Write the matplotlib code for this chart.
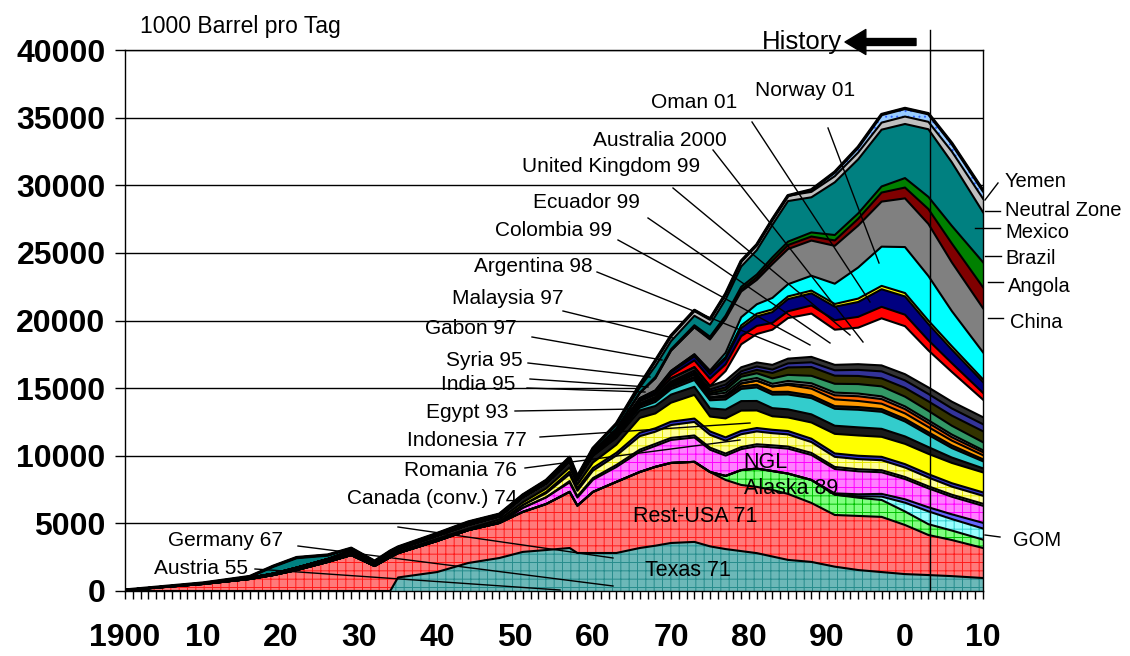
import matplotlib
matplotlib.use("Agg")
import matplotlib.pyplot as plt

# Non-OPEC oil production, 1000 barrel per day (stacked by country / region)
years = [1900, 1910, 1916, 1919, 1922, 1926, 1929, 1932, 1934, 1935, 1940, 1944, 1948, 1951, 1954, 1957, 1958,
         1960, 1963, 1966, 1968, 1970, 1973, 1975, 1977, 1979, 1981, 1983, 1985, 1988, 1991, 1994, 1997, 2000,
         2003, 2006, 2010]

texas = [0, 0, 0, 0, 0, 0, 0, 0, 0, 1000, 1400, 2070, 2440, 2890, 3030, 3180, 2810, 2810, 2810, 3180, 3350,
         3550, 3630, 3300, 3100, 2950, 2800, 2550, 2300, 2150, 1800, 1550, 1400, 1250, 1180, 1100, 960]
rest_usa = [70, 520, 890, 1180, 1550, 2150, 2660, 1850, 2500, 1800, 2300, 2430, 2590, 2960, 3400, 4150, 3500,
            4520, 5260, 5620, 5830, 5920, 5920, 5500, 5110, 4890, 4900, 4920, 4880, 4360, 3820, 4000, 4080, 3630,
            2960, 2670, 2220]
alaska = [0, 0, 0, 0, 0, 0, 0, 0, 0, 0, 0, 0, 0, 0, 0, 0, 0, 0, 0, 0, 0, 0, 0, 0, 300, 1100, 1350, 1400, 1500,
          1700, 1500, 1350, 1250, 1000, 800, 700, 620]
gom = [0, 0, 0, 0, 0, 0, 0, 0, 0, 0, 0, 0, 0, 0, 0, 0, 0, 0, 0, 0, 0, 0, 0, 0, 0, 0, 0, 0, 0, 0, 0, 100, 250,
       650, 950, 850, 820]
blue1 = [0, 0, 0, 0, 0, 0, 0, 0, 0, 0, 0, 0, 0, 0, 0, 0, 0, 0, 0, 0, 0, 0, 0, 0, 0, 0, 0, 0, 0, 0, 100, 150,
         200, 250, 300, 350, 420]
ngl = [0, 0, 0, 0, 0, 0, 0, 0, 0, 0, 0, 0, 0, 300, 500, 700, 600, 900, 1100, 1500, 1550, 1700, 1800, 1650, 1500,
       1550, 1650, 1750, 1850, 1850, 1800, 1700, 1600, 1500, 1400, 1300, 1260]
lav = [0, 0, 0, 0, 0, 0, 0, 0, 0, 0, 0, 0, 0, 0, 0, 100, 100, 120, 150, 150, 150, 150, 150, 150, 150, 150, 150,
       150, 150, 150, 150, 150, 150, 150, 150, 150, 150]
light_yellow = [0, 0, 0, 0, 0, 0, 0, 0, 0, 0, 0, 0, 100, 200, 300, 500, 400, 550, 700, 1000, 900, 950, 1000,
                950, 950, 950, 950, 900, 900, 800, 750, 750, 740, 700, 650, 600, 590]
dark1 = [0, 0, 0, 0, 0, 0, 0, 0, 0, 0, 0, 0, 0, 0, 100, 200, 200, 200, 200, 250, 250, 250, 250, 250, 250, 250,
         250, 250, 250, 250, 250, 250, 250, 250, 250, 250, 250]
yellow = [0, 0, 0, 0, 50, 60, 100, 100, 100, 100, 150, 100, 150, 200, 250, 300, 250, 400, 600, 1100, 1100, 1400,
          1750, 1100, 1400, 1500, 1300, 1000, 1000, 1200, 1450, 1500, 1480, 1500, 1500, 1500, 1480]
dark2 = [0, 50, 80, 100, 120, 150, 200, 150, 200, 200, 250, 300, 250, 400, 400, 500, 400, 500, 500, 550, 550,
         600, 600, 600, 650, 700, 700, 600, 600, 600, 600, 600, 590, 550, 500, 400, 300]
turq = [0, 0, 0, 0, 0, 0, 0, 0, 0, 0, 0, 0, 0, 0, 0, 0, 0, 0, 100, 200, 300, 400, 500, 600, 750, 900, 1000, 1000,
        1100, 1200, 1250, 1300, 1260, 1100, 900, 700, 520]
dark3 = [0, 0, 0, 0, 0, 0, 0, 0, 0, 0, 0, 0, 0, 0, 0, 0, 0, 100, 200, 200, 200, 200, 200, 200, 200, 200, 200,
         200, 200, 200, 200, 200, 200, 200, 200, 200, 150]
orange = [0, 0, 0, 0, 0, 0, 0, 0, 0, 0, 0, 0, 0, 0, 0, 0, 0, 0, 0, 0, 0, 0, 0, 0, 100, 200, 300, 400, 500, 500,
          500, 450, 400, 400, 380, 350, 300]
dorange = [0, 0, 0, 0, 0, 0, 0, 0, 0, 0, 0, 0, 0, 0, 0, 0, 0, 0, 0, 0, 0, 0, 0, 0, 0, 0, 0, 0, 100, 200, 300,
           350, 340, 320, 300, 250, 220]
grey2 = [0, 0, 0, 0, 0, 0, 0, 0, 0, 0, 0, 0, 0, 0, 0, 0, 0, 0, 0, 0, 0, 100, 200, 200, 200, 200, 200, 200, 200,
         200, 200, 200, 200, 200, 200, 200, 150]
seagreen = [0, 0, 0, 0, 0, 0, 0, 0, 0, 0, 0, 0, 0, 0, 0, 0, 0, 0, 0, 0, 0, 0, 0, 100, 200, 300, 350, 400, 450,
            550, 650, 700, 740, 720, 700, 650, 590]
olive = [0, 0, 0, 0, 0, 0, 0, 0, 0, 0, 0, 0, 0, 0, 0, 0, 0, 0, 0, 100, 150, 150, 150, 150, 200, 200, 250, 400,
         550, 650, 600, 600, 590, 650, 700, 750, 810]
slate = [0, 0, 0, 0, 0, 0, 0, 0, 0, 0, 0, 0, 0, 0, 0, 0, 0, 0, 0, 0, 0, 100, 150, 150, 200, 200, 250, 250, 300,
         350, 400, 450, 520, 550, 550, 530, 520]
dgrey = [0, 0, 0, 0, 0, 0, 0, 0, 0, 0, 0, 0, 0, 0, 0, 0, 0, 100, 150, 200, 200, 250, 250, 250, 300, 300, 300,
         350, 350, 400, 400, 420, 440, 460, 480, 500, 520]
white = [0, 0, 0, 0, 0, 0, 0, 0, 0, 0, 0, 0, 0, 0, 0, 0, 0, 0, 0, 0, 0, 0, 0, 0, 700, 1700, 2100, 2600, 3000,
         3200, 2600, 2700, 3480, 3550, 2740, 2200, 1300]
red = [0, 0, 0, 0, 0, 0, 0, 0, 0, 0, 0, 0, 0, 0, 0, 0, 0, 0, 0, 50, 100, 250, 500, 550, 500, 600, 600, 500, 500,
       600, 700, 800, 850, 850, 750, 650, 500]
navy = [0, 0, 0, 0, 0, 0, 0, 0, 0, 0, 0, 0, 0, 0, 0, 0, 0, 0, 0, 150, 150, 200, 300, 350, 400, 600, 700, 800,
        900, 900, 1000, 1100, 1300, 1350, 1200, 1000, 800]
thin_yellow = [0, 0, 0, 0, 0, 0, 0, 0, 0, 0, 0, 0, 0, 0, 0, 0, 0, 0, 0, 0, 50, 100, 150, 150, 150, 200, 200,
               200, 200, 200, 200, 250, 250, 250, 250, 250, 200]
cyan = [0, 0, 0, 0, 0, 0, 0, 0, 0, 0, 0, 0, 0, 0, 0, 0, 0, 0, 0, 0, 0, 0, 0, 100, 300, 600, 700, 850, 900, 1100,
        1500, 2300, 2900, 3400, 3300, 2600, 2000]
china = [0, 0, 0, 0, 0, 0, 0, 0, 0, 0, 0, 0, 0, 0, 0, 0, 0, 100, 200, 400, 900, 1500, 2000, 2300, 2500, 1900,
         1800, 2500, 2600, 2600, 2800, 3100, 3330, 3600, 3850, 3600, 3260]
angola = [0, 0, 0, 0, 0, 0, 0, 0, 0, 0, 0, 0, 0, 0, 0, 0, 0, 0, 0, 0, 0, 0, 0, 50, 100, 150, 200, 250, 300, 300,
          400, 500, 670, 800, 1100, 1400, 1550]
brazil = [0, 0, 0, 0, 0, 0, 0, 0, 0, 0, 0, 0, 0, 0, 0, 0, 0, 0, 0, 0, 100, 100, 150, 150, 150, 200, 200, 250,
          250, 300, 400, 400, 450, 700, 900, 1300, 1850]
mexico = [0, 20, 100, 550, 750, 300, 200, 100, 150, 150, 150, 200, 150, 150, 200, 250, 200, 250, 300, 400, 800,
          600, 700, 900, 1200, 1500, 1800, 2400, 3000, 2600, 3900, 4000, 4200, 4000, 5000, 4700, 3700]
neutral_zone = [0, 0, 0, 0, 0, 0, 0, 0, 0, 0, 0, 0, 0, 0, 0, 0, 0, 0, 100, 200, 400, 400, 400, 400, 400, 400,
                400, 400, 400, 400, 450, 500, 520, 550, 550, 800, 1000]
yemen = [0, 0, 0, 0, 0, 0, 0, 0, 0, 0, 0, 0, 0, 0, 0, 0, 0, 0, 0, 0, 0, 0, 0, 0, 0, 0, 0, 0, 0, 150, 300, 400,
         600, 600, 600, 600, 600]

# (values, face colour, hatch colour, hatch) from bottom to top
layers = [
    (texas, '#6cb8b8', '#268c8c', '++'),
    (rest_usa, '#ff7a7a', '#ff1a1a', '++'),
    (alaska, '#80ff80', '#00c000', '++'),
    (gom, '#99ffff', '#33cccc', '++'),
    (blue1, '#6666ff', None, None),
    (ngl, '#ff80ff', '#ff00ff', '++'),
    (lav, '#ccccff', None, None),
    (light_yellow, '#ffff99', '#e6e600', '++'),
    (dark1, '#3333cc', None, None),
    (yellow, '#ffff00', None, None),
    (dark2, '#1a1a1a', None, None),
    (turq, '#33cccc', None, None),
    (dark3, '#1a1a1a', None, None),
    (orange, '#ff9900', None, None),
    (dorange, '#ff6600', None, None),
    (grey2, '#969696', None, None),
    (seagreen, '#339966', None, None),
    (olive, '#333300', None, None),
    (slate, '#333399', None, None),
    (dgrey, '#333333', None, None),
    (white, '#ffffff', None, None),
    (red, '#ff0000', None, None),
    (navy, '#000080', None, None),
    (thin_yellow, '#ffff00', None, None),
    (cyan, '#00ffff', None, None),
    (china, '#808080', None, None),
    (angola, '#800000', None, None),
    (brazil, '#008000', None, None),
    (mexico, '#008080', None, None),
    (neutral_zone, '#c0c0c0', None, None),
    (yemen, '#99ccff', '#3366ff', '...'),
]

plt.rcParams['hatch.linewidth'] = 0.7
sans = 'Liberation Sans'

W, H = 1130, 656
fig = plt.figure(figsize=(W / 100, H / 100), dpi=100)
ax = fig.add_axes([125 / W, 65 / H, 858 / W, 541 / H])
ax.set_xlim(1900, 2010)
ax.set_ylim(0, 40000)


def at(x, y):
    # pixel position in the picture -> data coordinates
    return 1900 + (x - 125) / 7.8, (591 - y) * 40000 / 541


base = [0] * len(years)
tops = []
for vals, fc, hc, hatch in layers:
    top = [b + v for b, v in zip(base, vals)]
    if hatch:
        ax.fill_between(years, base, top, facecolor=fc, edgecolor=hc, hatch=hatch, linewidth=0, zorder=1)
    else:
        ax.fill_between(years, base, top, facecolor=fc, linewidth=0, zorder=1)
    tops.append(top)
    base = top

for top in tops:
    ax.plot(years, top, color='black', lw=1.5, zorder=2)
ax.plot(years, tops[-1], color='black', lw=2.4, zorder=2)

# axes
ax.set_yticks(range(0, 40001, 5000))
ax.set_yticklabels([str(v) for v in range(0, 40001, 5000)], fontsize=23, fontweight='bold', family=sans)
ax.set_xticks(range(1900, 2011, 10))
ax.set_xticklabels(['1900', '10', '20', '30', '40', '50', '60', '70', '80', '90', '0', '10'], fontsize=23,
                   fontweight='bold', family=sans)
ax.set_xticks(range(1900, 2011), minor=True)
ax.tick_params(axis='x', which='both', direction='out', length=6, width=1, pad=17)
ax.tick_params(axis='y', direction='out', length=7, width=1, pad=7)
ax.yaxis.grid(True, color='black', lw=1)
ax.set_axisbelow(True)
for s in ax.spines.values():
    s.set_linewidth(1)

# history marker
hx = at(930, 0)[0]
ax.plot([hx, hx], [0, at(0, 30)[1]], color='black', lw=1, zorder=6, clip_on=False)
ax.annotate('', xy=(845, H - 42), xytext=(916, H - 42), xycoords='figure pixels', textcoords='figure pixels',
            arrowprops=dict(arrowstyle='simple,head_width=1.8,head_length=1.5,tail_width=0.5', fc='black',
                            ec='black', mutation_scale=10, shrinkA=0, shrinkB=0))
fig.text(762 / W, 1 - 42 / H, 'History', fontsize=18.5, family=sans, ha='left', va='center')
fig.text(140 / W, 1 - 27 / H, '1000 Barrel pro Tag', fontsize=16.5, family=sans, ha='left', va='center')

# labels with leader lines: (text, text x, text y, align, line start, line end) in picture pixels
left_labels = [
    ('Oman 01', 694, 102, 'center', (752, 122), (870, 302)),
    ('Norway 01', 805, 90, 'center', (828, 128), (879, 263)),
    ('Australia 2000', 727, 141, 'right', (713, 150), (863, 342)),
    ('United Kingdom 99', 700, 166, 'right', (673, 188), (850, 335)),
    ('Ecuador 99', 640, 203, 'right', (648, 218), (830, 343)),
    ('Colombia 99', 612, 231, 'right', (618, 240), (810, 345)),
    ('Argentina 98', 593, 266, 'right', (597, 272), (790, 350)),
    ('Malaysia 97', 563, 299, 'right', (563, 311), (673, 338)),
    ('Gabon 97', 517, 328, 'right', (532, 337), (662, 360)),
    ('Syria 95', 523, 360, 'right', (528, 363), (650, 377)),
    ('India 95', 515, 385, 'right', (530, 379), (648, 387)),
    ('', 0, 0, 'right', (527, 388), (645, 392)),
    ('Egypt 93', 508, 412, 'right', (515, 411), (637, 409)),
    ('Indonesia 77', 527, 440, 'right', (540, 437), (750, 423)),
    ('Romania 76', 517, 471, 'right', (525, 468), (740, 440)),
    ('Canada (conv.) 74', 517, 498, 'right', (398, 527), (613, 558)),
    ('Germany 67', 283, 540, 'right', (298, 546), (613, 586)),
    ('Austria 55', 248, 569, 'right', (255, 569), (560, 590)),
]
right_labels = [
    ('Yemen', 1005, 182, (998, 183), (985, 200)),
    ('Neutral Zone', 1005, 210, (985, 211), (1000, 211)),
    ('Mexico', 1005, 233, (975, 228), (1000, 228)),
    ('Brazil', 1005, 259, (985, 256), (1001, 256)),
    ('Angola', 1008, 286, (988, 282), (1003, 282)),
    ('China', 1010, 322, (988, 318), (1003, 318)),
    ('GOM', 1013, 541, (985, 535), (1000, 537)),
]

for text, tx, ty, ha, p0, p1 in left_labels:
    if text:
        ax.text(*at(tx, ty), text, fontsize=15, family=sans, ha=ha, va='center', zorder=0.8, clip_on=False)
    (x0, y0), (x1, y1) = at(*p0), at(*p1)
    ax.plot([x0, x1], [y0, y1], color='black', lw=1, zorder=5, clip_on=False)

for text, tx, ty, p0, p1 in right_labels:
    ax.text(*at(tx, ty), text, fontsize=14.5, family=sans, ha='left', va='center', zorder=5, clip_on=False)
    (x0, y0), (x1, y1) = at(*p0), at(*p1)
    ax.plot([x0, x1], [y0, y1], color='black', lw=1, zorder=5, clip_on=False)

for text, tx, ty in [('NGL', 765, 462), ('Alaska 89', 791, 488), ('Rest-USA 71', 695, 516),
                     ('Texas 71', 688, 570)]:
    ax.text(*at(tx, ty), text, fontsize=15.5, family=sans, ha='center', va='center', zorder=5)

fig.savefig('out.png', dpi=100)
